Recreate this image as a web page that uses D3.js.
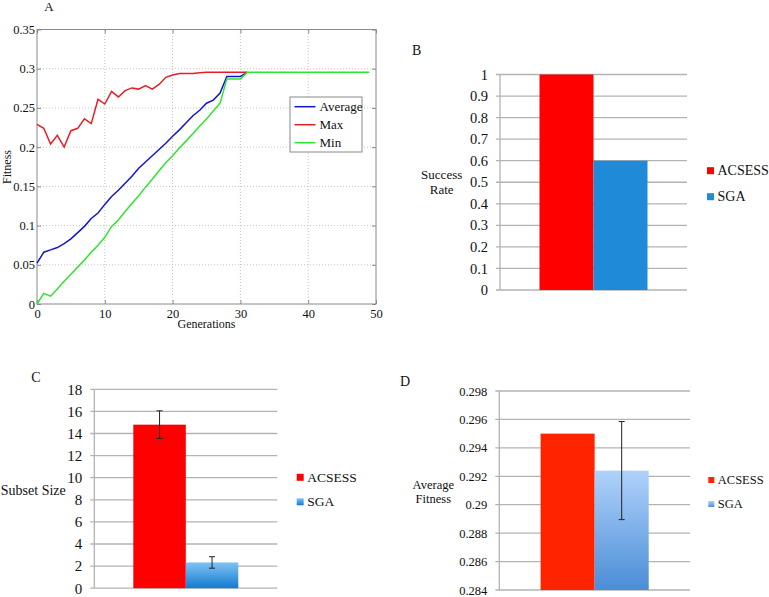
<!DOCTYPE html>
<html><head><meta charset="utf-8">
<script src="https://cdn.jsdelivr.net/npm/d3@7"></script>
<style>body{margin:0;background:#fff}svg{display:block}svg text{font-family:"Liberation Serif","DejaVu Serif","Times New Roman",Times,serif !important;fill:#111}</style>
</head><body>
<svg id="c" width="769" height="597"></svg>
<script>
// ---- Panel A data ----
const generations = d3.range(0, 50);
const avgFitness = [0.052,0.066,0.069,0.072,0.077,0.083,0.091,0.099,0.109,0.116,0.127,0.137,0.145,0.154,0.163,0.173,0.181,0.189,0.197,0.205,0.214,0.222,0.231,0.240,0.247,0.256,0.260,0.269,0.290,0.290,0.290,0.2955];
const maxFitness = [0.229,0.224,0.204,0.215,0.200,0.221,0.224,0.236,0.230,0.261,0.255,0.271,0.264,0.272,0.2755,0.274,0.2785,0.274,0.280,0.289,0.292,0.294,0.294,0.294,0.295,0.2955,0.2955,0.2955,0.2955,0.2955,0.2955,0.2955];
const minFitness = [0,0.0136,0.010,0.019,0.029,0.038,0.047,0.056,0.066,0.075,0.085,0.099,0.107,0.118,0.128,0.138,0.149,0.159,0.170,0.180,0.189,0.199,0.208,0.217,0.227,0.236,0.246,0.256,0.287,0.287,0.287,0.2955,0.2955,0.2955,0.2955,0.2955,0.2955,0.2955,0.2955,0.2955,0.2955,0.2955,0.2955,0.2955,0.2955,0.2955,0.2955,0.2955,0.2955,0.2955];
const seriesNamesA = ["Average","Max","Min"];
const xTicksA = [0,10,20,30,40,50];
const yTicksA = [0,0.05,0.1,0.15,0.2,0.25,0.3,0.35];

// ---- Bar panels data ----
const methods = ["ACSESS","SGA"];
const successRate = [1.0, 0.6];
const subsetSize = [14.8, 2.33];
const subsetSizeErr = [1.25, 0.52];
const avgFitnessBar = [0.295, 0.2924];
const avgFitnessErr = [0, 0.00345];
const ticksB = [0,0.1,0.2,0.3,0.4,0.5,0.6,0.7,0.8,0.9,1];
const ticksC = [0,2,4,6,8,10,12,14,16,18];
const ticksD = [0.284,0.286,0.288,0.29,0.292,0.294,0.296,0.298];

const SERIF = "Liberation Serif, DejaVu Serif, Times New Roman, serif";
const svg = d3.select("#c");
const defs = svg.append("defs");
function grad(id, top, bot){
  const g = defs.append("linearGradient").attr("id", id).attr("x1",0).attr("y1",0).attr("x2",0).attr("y2",1);
  g.append("stop").attr("offset","0%").attr("stop-color",top);
  g.append("stop").attr("offset","100%").attr("stop-color",bot);
}
grad("gC", "#80c2f4", "#137bd0");
grad("gD", "#b0d2fb", "#4a8dd6");

// ================= Panel A =================
(function(){
  const x = d3.scaleLinear().domain([0,50]).range([37,376]);
  const y = d3.scaleLinear().domain([0,0.35]).range([304,29.5]);
  const g = svg.append("g");
  g.selectAll(".gx").data(xTicksA.slice(1,-1)).join("line")
    .attr("x1",d=>x(d)).attr("x2",d=>x(d)).attr("y1",y(0)).attr("y2",y(0.35))
    .attr("stroke","#bdbdbd").attr("stroke-width",0.9).attr("stroke-dasharray","1,2");
  g.selectAll(".gy").data(yTicksA.slice(1,-1)).join("line")
    .attr("x1",x(0)).attr("x2",x(50)).attr("y1",d=>y(d)).attr("y2",d=>y(d))
    .attr("stroke","#bdbdbd").attr("stroke-width",0.9).attr("stroke-dasharray","1,2");
  g.append("rect").attr("x",x(0)).attr("y",y(0.35)).attr("width",x(50)-x(0)).attr("height",y(0)-y(0.35))
    .attr("fill","none").attr("stroke","#8a8a8a").attr("stroke-width",1);
  const ax = g.append("g").attr("transform",`translate(0,${y(0)})`)
    .call(d3.axisBottom(x).tickValues(xTicksA).tickSize(-4).tickPadding(5).tickFormat(d3.format("d")));
  const ay = g.append("g").attr("transform",`translate(${x(0)},0)`)
    .call(d3.axisLeft(y).tickValues(yTicksA).tickSize(-4).tickPadding(2).tickFormat(d=>d===0?"0":String(+d.toFixed(2))));
  const ay2 = g.append("g").attr("transform",`translate(${x(50)},0)`)
    .call(d3.axisRight(y).tickValues(yTicksA).tickSize(-4).tickFormat(""));
  const axT = g.append("g").attr("transform",`translate(0,${y(0.35)})`)
    .call(d3.axisTop(x).tickValues(xTicksA).tickSize(-4).tickFormat(""));
  [ax,ay,ay2,axT].forEach(a=>{a.attr("font-family",SERIF);a.select(".domain").remove();a.selectAll("line").attr("stroke","#8a8a8a");a.selectAll("text").attr("font-size",12.5).attr("fill","#111");});
  const line = d3.line().x((d,i)=>x(generations[i])).y(d=>y(d));
  const cols = {Average:"#1414d2", Max:"#e61e28", Min:"#2ee62e"};
  [[avgFitness,"Average"],[maxFitness,"Max"],[minFitness,"Min"]].forEach(([arr,n])=>{
    g.append("path").datum(arr).attr("d",line).attr("fill","none").attr("stroke",cols[n]).attr("stroke-width",1.5);
  });
  const lg = g.append("g");
  lg.append("rect").attr("x",290).attr("y",97).attr("width",72).attr("height",55).attr("fill","#fff").attr("stroke","#8a8a8a").attr("stroke-width",1);
  seriesNamesA.forEach((n,i)=>{
    const yy = 106.7 + i*18;
    lg.append("line").attr("x1",294.5).attr("x2",315.5).attr("y1",yy).attr("y2",yy).attr("stroke",cols[n]).attr("stroke-width",1.5);
    lg.append("text").attr("x",319.5).attr("y",yy+4.3).attr("font-size",13).text(n);
  });
  svg.append("text").attr("x",49).attr("y",11).attr("text-anchor","middle").attr("font-size",13).text("A");
  svg.append("text").attr("x",206.5).attr("y",328).attr("text-anchor","middle").attr("font-size",12).text("Generations");
  svg.append("text").attr("transform",`translate(11,167) rotate(-90)`).attr("text-anchor","middle").attr("font-size",12).text("Fitness");
})();

// ============ Bar panel helper ============
function barPanel(o){
  const y = d3.scaleLinear().domain(o.domain).range([o.y0, o.y1]);
  const band = d3.scaleBand().domain(["all"]).range([o.x0, o.x1]).paddingInner(0).paddingOuter(0);
  const xb = d3.scaleBand().domain(methods).range([band("all")+o.gap, band("all")+band.bandwidth()-o.gap]);
  const g = svg.append("g");
  g.selectAll(".gl").data(o.ticks).join("line")
    .attr("x1",o.x0-4).attr("x2",o.x1).attr("y1",d=>y(d)).attr("y2",d=>y(d))
    .attr("stroke","#b3b3b3").attr("stroke-width",1.3);
  g.append("line").attr("x1",o.x0).attr("x2",o.x0).attr("y1",y(o.domain[0])).attr("y2",y(o.domain[1]))
    .attr("stroke","#b3b3b3").attr("stroke-width",1.3);
  const ay = g.append("g").attr("transform",`translate(${o.x0-4},0)`)
    .call(d3.axisLeft(y).tickValues(o.ticks).tickSize(0).tickPadding(8).tickFormat(o.fmt));
  ay.attr("font-family",SERIF);
  ay.select(".domain").remove();
  ay.selectAll("text").attr("font-size",o.fs).attr("fill","#111");
  g.selectAll(".bar").data(methods).join("rect")
    .attr("x",d=>xb(d)).attr("width",xb.bandwidth())
    .attr("y",(d,i)=>y(o.values[i])).attr("height",(d,i)=>y(o.domain[0])-y(o.values[i]))
    .attr("fill",(d,i)=>o.colors[i]);
  if(o.errs){
    methods.forEach((m,i)=>{
      const e = o.errs[i]; if(!e) return;
      const cx = xb(m)+xb.bandwidth()/2;
      const yt = y(o.values[i]+e), yb = y(o.values[i]-e);
      g.append("line").attr("x1",cx).attr("x2",cx).attr("y1",yt).attr("y2",yb).attr("stroke","#222").attr("stroke-width",1);
      [yt,yb].forEach(yy=>g.append("line").attr("x1",cx-3).attr("x2",cx+3).attr("y1",yy).attr("y2",yy).attr("stroke","#222").attr("stroke-width",1));
    });
  }
  methods.forEach((m,i)=>{
    const yy = o.legY + i*o.legStep;
    g.append("rect").attr("x",o.legX).attr("y",yy-o.sq/2).attr("width",o.sq).attr("height",o.sq).attr("fill",o.colors[i]);
    g.append("text").attr("x",o.legX+o.sq+3.5).attr("y",yy+o.lfs*0.33).attr("font-size",o.lfs).text(m);
  });
  svg.append("text").attr("x",o.label[1]).attr("y",o.label[2]+5).attr("text-anchor","middle").attr("font-size",14).text(o.label[0]);
  o.title.forEach((t,i)=>{
    svg.append("text").attr("x",o.titleX).attr("y",o.titleY + i*o.titleStep + o.tfs*0.33).attr("text-anchor","middle").attr("font-size",o.tfs).text(t);
  });
}

barPanel({domain:[0,1], y0:290, y1:74.5, x0:500, x1:687, gap:39.5, ticks:ticksB, fmt:d=>String(+d.toFixed(1)), fs:14.5,
  values:successRate, colors:["#ff0000","#1e8ad8"], errs:null,
  legX:707, legY:170.7, legStep:26, sq:7, lfs:14,
  label:["B",416.7,50], title:["Success","Rate"], titleX:441.7, titleY:175, titleStep:15, tfs:13});

barPanel({domain:[0,18], y0:588.2, y1:389.3, x0:94.3, x1:277.3, gap:39, ticks:ticksC, fmt:d3.format("d"), fs:15,
  values:subsetSize, colors:["#ff0000","url(#gC)"], errs:subsetSizeErr,
  legX:296.7, legY:477.3, legStep:24.5, sq:7, lfs:13.5,
  label:["C",36,376.7], title:["Subset Size"], titleX:33.3, titleY:490, titleStep:0, tfs:14});

barPanel({domain:[0.284,0.298], y0:590, y1:391, x0:499.3, x1:690, gap:41.3, ticks:ticksD, fmt:d=>String(+d.toFixed(3)), fs:12.5,
  values:avgFitnessBar, colors:["#ff2400","url(#gD)"], errs:avgFitnessErr,
  legX:708.3, legY:480, legStep:24, sq:6, lfs:12.5,
  label:["D",405,380.7], title:["Average","Fitness"], titleX:433.3, titleY:485, titleStep:13.5, tfs:12.5});
</script>
</body></html>
